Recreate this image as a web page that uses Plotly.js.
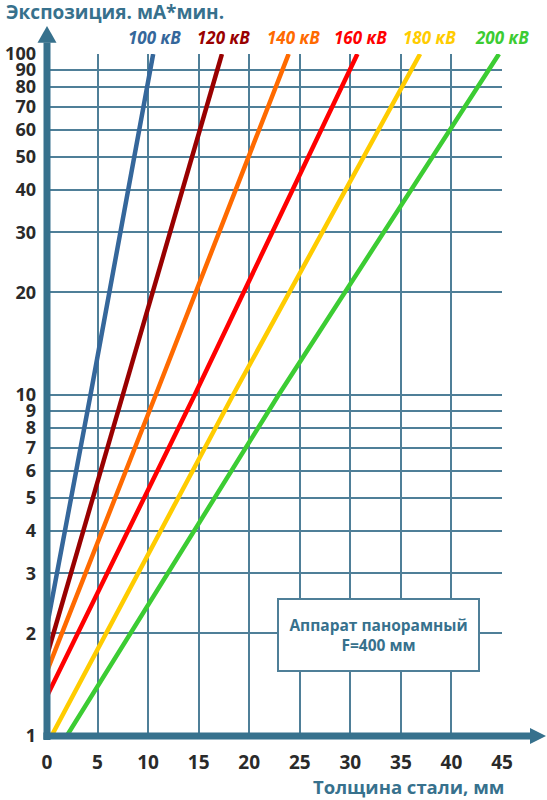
<!DOCTYPE html>
<html>
<head>
<meta charset="utf-8">
<script src="https://cdn.plot.ly/plotly-3.0.1.min.js"></script>
<style>
  html, body { margin: 0; padding: 0; background: #fff; }
  #chart { width: 547px; height: 800px; }
</style>
</head>
<body>
<div id="chart"></div>
<script>
// series names (voltage)
const seriesNames = ["100 кВ", "120 кВ", "140 кВ", "160 кВ", "180 кВ", "200 кВ"];

// steel thickness, mm
const x100 = [0, 4.3, 10.5];
const x120 = [0, 7.5, 17.3];
const x140 = [0, 10.75, 23.9];
const x160 = [0, 14.6, 30.7];
const x180 = [0.44, 18.4, 36.9];
const x200 = [1.95, 22.9, 44.7];

// exposure, mA*min
const y100 = [2.1, 10, 100];
const y120 = [1.72, 10, 100];
const y140 = [1.55, 10, 100];
const y160 = [1.31, 10, 100];
const y180 = [1, 10, 100];
const y200 = [1, 10, 100];

// axis ticks
const yTicks = [1, 2, 3, 4, 5, 6, 7, 8, 9, 10, 20, 30, 40, 50, 60, 70, 80, 90, 100];
const xTicks = [0, 5, 10, 15, 20, 25, 30, 35, 40, 45];

const COLORS = ["#35679b", "#990000", "#ff6a00", "#ff0000", "#ffcc00", "#3ccc33"];
const AXIS_CLR = "#37718d";
const GRID_CLR = "#4f7f98";
const FONT = "Open Sans, DejaVu Sans, sans-serif";

const xs = [x100, x120, x140, x160, x180, x200];
const ys = [y100, y120, y140, y160, y180, y200];

const traces = seriesNames.map((name, i) => ({
    x: xs[i],
    y: ys[i],
    mode: "lines",
    name: name,
    line: {color: COLORS[i], width: 4.5},
    hoverinfo: "skip"
}));

// labels over the top end of each line
const labelShift = [1, 2, 5, 3, 9, 3];
const annotations = seriesNames.map((name, i) => ({
    x: xs[i][xs[i].length - 1],
    xref: "x",
    y: 1.0,
    yref: "paper",
    yshift: 17,
    xshift: labelShift[i],
    text: "<b><i>" + name + "</i></b>",
    showarrow: false,
    xanchor: "center",
    yanchor: "middle",
    font: {size: 17, family: FONT, color: COLORS[i]}
}));

// axis titles
annotations.push({
    x: -0.0945, xref: "paper", y: 1.062, yref: "paper",
    text: "<b>Экспозиция. мА*мин.</b>", showarrow: false,
    xanchor: "left", yanchor: "middle",
    font: {size: 19, family: FONT, color: AXIS_CLR}
});
annotations.push({
    x: 1.009, xref: "paper", y: -0.074, yref: "paper",
    text: "<b>Толщина стали, мм</b>", showarrow: false,
    xanchor: "right", yanchor: "middle",
    font: {size: 18.5, family: FONT, color: AXIS_CLR}
});
// info box
annotations.push({
    x: (378.7 - 47) / 455, xref: "paper", y: (736 - 635) / 682, yref: "paper",
    text: "<b>Аппарат панорамный<br>F=400 мм</b>", showarrow: false,
    xanchor: "center", yanchor: "middle",
    width: 197, height: 68, align: "center",
    bgcolor: "#ffffff", bordercolor: GRID_CLR, borderwidth: 2, borderpad: 1,
    font: {size: 15.5, family: FONT, color: AXIS_CLR}
});

// thick axes with arrows
const shapes = [
    {type: "line", xref: "paper", yref: "paper", x0: 0, x1: 0, y0: -0.006, y1: 1.017,
     line: {color: AXIS_CLR, width: 7}},
    {type: "path", xref: "paper", yref: "paper",
     path: "M -0.0209,1.0166 L 0.0209,1.0166 L 0,1.041 Z",
     fillcolor: AXIS_CLR, line: {width: 0}},
    {type: "line", xref: "paper", yref: "paper", x0: -0.008, x1: 1.062, y0: 0, y1: 0,
     line: {color: AXIS_CLR, width: 7}},
    {type: "path", xref: "paper", yref: "paper",
     path: "M 1.0615,-0.0117 L 1.0615,0.0117 L 1.0967,0 Z",
     fillcolor: AXIS_CLR, line: {width: 0}}
];

const layout = {
    width: 547,
    height: 800,
    margin: {l: 47, r: 45, t: 54, b: 64},
    paper_bgcolor: "#ffffff",
    plot_bgcolor: "#ffffff",
    showlegend: false,
    xaxis: {
        range: [0, 45],
        tickvals: xTicks,
        ticktext: xTicks.map(String),
        showgrid: true,
        gridcolor: GRID_CLR,
        gridwidth: 2,
        zeroline: false,
        showline: false,
        ticks: "",
        ticklabelstandoff: 13,
        tickfont: {size: 19, family: FONT, color: "#2a2a2a", weight: "bold"},
        fixedrange: true
    },
    yaxis: {
        type: "log",
        range: [0, 2],
        tickvals: yTicks,
        ticktext: yTicks.map(String),
        showgrid: true,
        gridcolor: GRID_CLR,
        gridwidth: 2,
        zeroline: false,
        showline: false,
        ticks: "",
        ticklabelstandoff: 10,
        tickfont: {size: 18, family: FONT, color: "#2a2a2a", weight: "bold"},
        fixedrange: true
    },
    annotations: annotations,
    shapes: shapes
};

Plotly.newPlot("chart", traces, layout, {displayModeBar: false, staticPlot: true});
</script>
</body>
</html>
